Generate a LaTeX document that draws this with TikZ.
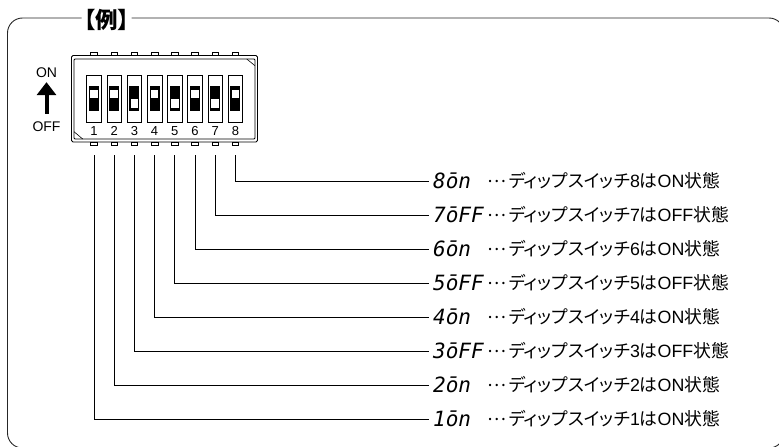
\documentclass[tikz,border=0pt]{standalone}
\usepackage{fontspec}
\setmainfont{Liberation Sans}
\newfontfamily\jpfont[RawFeature={+palt}]{Noto Sans CJK JP}
\newfontfamily\lcdfont{DejaVu Sans Mono}
\usetikzlibrary{arrows.meta, positioning}

\newcommand{\dipdesc}[2]{{\jpfont \raisebox{5.5pt}{…}\hspace{2.5pt}ディップスイッチ}#1{\jpfont は}#2{\jpfont 状態}}

\begin{document}
\begin{tikzpicture}[
    x=1pt, y=-1pt,
    frame/.style={draw=black!85, line width=0.9pt, rounded corners=15pt},
    chipout/.style={draw, line width=0.9pt, rounded corners=1.5pt, minimum width=186pt, minimum height=86.5pt,
                outer sep=0pt, inner sep=0pt},
    chipin/.style={draw, line width=0.9pt, rounded corners=1pt, minimum width=181pt, minimum height=80pt,
                outer sep=0pt, inner sep=0pt},
    slot/.style={draw, line width=0.7pt, minimum width=14.7pt, minimum height=47.7pt, outer sep=0pt, inner sep=0pt},
    knob/.style={fill=black, minimum width=10pt, minimum height=25pt, outer sep=0pt, inner sep=0pt},
    winup/.style={fill=white, minimum width=7.5pt, minimum height=8.5pt, inner sep=0pt, yshift=5pt},
    windown/.style={fill=white, minimum width=7.5pt, minimum height=8.5pt, inner sep=0pt, yshift=-4.6pt},
    pin/.style={draw, line width=0.6pt, minimum width=6.5pt, minimum height=3.5pt, outer sep=0pt, inner sep=0pt},
    numlab/.style={font=\fontsize{13}{13}\selectfont, inner sep=0pt},
    side/.style={font=\fontsize{14}{14}\selectfont, inner sep=0pt},
    lcd/.style={anchor=west, font=\fontsize{21}{21}\lcdfont\itshape, inner ysep=0pt, inner xsep=4pt,
                text height=15pt, text depth=0pt},
    desc/.style={anchor=west, font=\fontsize{17.8}{20}\selectfont, inner sep=0pt,
                text height=13pt, text depth=0pt},
    lead/.style={line width=0.7pt},
    updir/.style={-{Triangle[length=13pt, width=19pt]}, line width=4pt}
]
    \clip (0,0) rectangle (779,447);

    % outer frame, broken at the heading
    \node[font=\fontsize{22.5}{22}\jpfont\bfseries, inner sep=0pt] (heading) at (106.5,20) {【例】};
    \coordinate (frameleft) at (81.7,18);
    \coordinate (frameright) at (131.6,18);
    \draw[frame] (frameleft) -- (7.5,18) -- (7.5,448) -- (784,448) -- (784,18) -- (frameright);

    % switch body
    \node[chipout] (chipbody) at (164.5,98.7) {};
    \node[chipin] (chipface) at (164.5,99) {};
    \draw[line width=0.6pt] (chipface.north east) ++(-8.3,0) -- ++(8.3,6.7);
    \draw[line width=0.6pt] (chipface.south west) ++(8.7,0) -- ++(-8.7,-7.3);

    \node[slot] (slot1) at (94,98.8) {};
    \node[slot, right=5.5pt of slot1] (slot2) {};
    \node[slot, right=5.5pt of slot2] (slot3) {};
    \node[slot, right=5.5pt of slot3] (slot4) {};
    \node[slot, right=5.5pt of slot4] (slot5) {};
    \node[slot, right=5.5pt of slot5] (slot6) {};
    \node[slot, right=5.5pt of slot6] (slot7) {};
    \node[slot, right=5.5pt of slot7] (slot8) {};

    \foreach \i in {1,...,8} {
        \node[knob] (knob\i) at (slot\i) {};
        \node[pin, anchor=south] (pintop\i) at (slot\i |- chipbody.north) {};
        \node[pin, anchor=north] (pinbot\i) at (slot\i |- chipbody.south) {};
        \node[numlab, below=4pt of slot\i] (num\i) {\i};
        \coordinate[below=10pt of pinbot\i] (lead\i);
    }

    \node[winup] (win1) at (knob1) {};
    \node[winup] (win2) at (knob2) {};
    \node[windown] (win3) at (knob3) {};
    \node[winup] (win4) at (knob4) {};
    \node[windown] (win5) at (knob5) {};
    \node[winup] (win6) at (knob6) {};
    \node[windown] (win7) at (knob7) {};
    \node[winup] (win8) at (knob8) {};

    % ON / OFF direction
    \node[side] (onlab) at (46.5,73) {ON};
    \node[side] (offlab) at (46.5,127) {OFF};
    \draw[updir, shorten <=8pt, shorten >=4pt] (offlab.north) -- (onlab.south);

    % readouts and their explanations
    \node[lcd] (lcd8) at (429,181) {8ōn};
    \node[lcd] (lcd7) at (429,215) {7ōFF};
    \node[lcd] (lcd6) at (429,249) {6ōn};
    \node[lcd] (lcd5) at (429,283) {5ōFF};
    \node[lcd] (lcd4) at (429,317) {4ōn};
    \node[lcd] (lcd3) at (429,351) {3ōFF};
    \node[lcd] (lcd2) at (429,385) {2ōn};
    \node[lcd] (lcd1) at (429,419) {1ōn};

    \node[desc] (desc8) at (487,181) {\dipdesc{8}{ON}};
    \node[desc] (desc7) at (487,215) {\dipdesc{7}{OFF}};
    \node[desc] (desc6) at (487,249) {\dipdesc{6}{ON}};
    \node[desc] (desc5) at (487,283) {\dipdesc{5}{OFF}};
    \node[desc] (desc4) at (487,317) {\dipdesc{4}{ON}};
    \node[desc] (desc3) at (487,351) {\dipdesc{3}{OFF}};
    \node[desc] (desc2) at (487,385) {\dipdesc{2}{ON}};
    \node[desc] (desc1) at (487,419) {\dipdesc{1}{ON}};

    \draw[lead] (lead8) |- (lcd8.west);
    \draw[lead] (lead7) |- (lcd7.west);
    \draw[lead] (lead6) |- (lcd6.west);
    \draw[lead] (lead5) |- (lcd5.west);
    \draw[lead] (lead4) |- (lcd4.west);
    \draw[lead] (lead3) |- (lcd3.west);
    \draw[lead] (lead2) |- (lcd2.west);
    \draw[lead] (lead1) |- (lcd1.west);
\end{tikzpicture}
\end{document}
